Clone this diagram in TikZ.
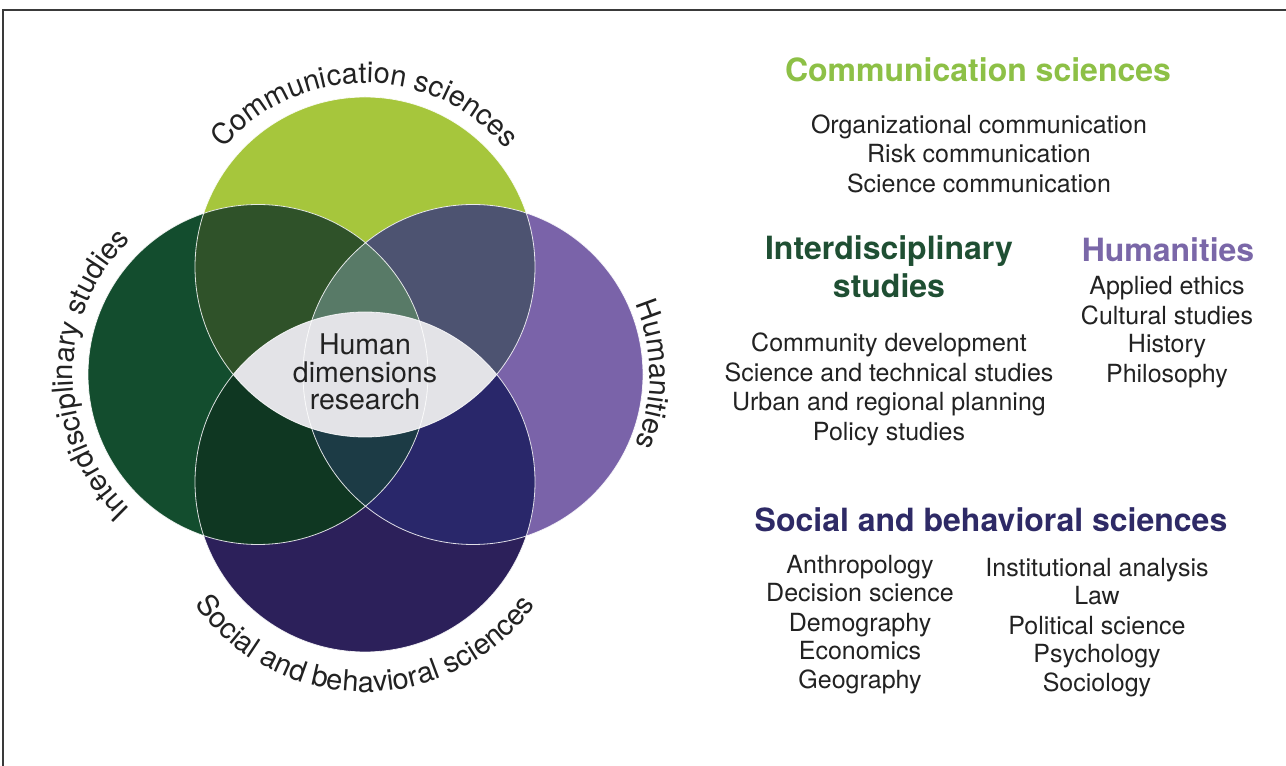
\documentclass[tikz,border=0pt]{standalone}
\usepackage{fontspec}
\setmainfont{TeX Gyre Heros}
\usetikzlibrary{decorations.text}

\definecolor{cTop}{HTML}{A6C63C}
\definecolor{cLeft}{HTML}{134D2E}
\definecolor{cRight}{HTML}{7A63A9}
\definecolor{cBot}{HTML}{2C205A}
\definecolor{cTL}{HTML}{2F5229}
\definecolor{cTR}{HTML}{4D5371}
\definecolor{cBL}{HTML}{0F3722}
\definecolor{cBR}{HTML}{29276A}
\definecolor{cTLR}{HTML}{587A67}
\definecolor{cBLR}{HTML}{1C3B45}
\definecolor{cLens}{HTML}{E3E3E7}
\definecolor{txt}{HTML}{222222}
\definecolor{tGreen}{HTML}{8DC046}
\definecolor{tDark}{HTML}{1F4F33}
\definecolor{tPurple}{HTML}{7A67A8}
\definecolor{tIndigo}{HTML}{2E2A66}
\definecolor{frameCol}{HTML}{3A3A3A}

\tikzset{
  body/.style={font=\fontsize{25}{29}\selectfont, text=txt, anchor=base, inner sep=0pt},
  ttl/.style={font=\bfseries\fontsize{32}{36}\selectfont, anchor=base, inner sep=0pt},
  lenstxt/.style={font=\fontsize{28.5}{29}\selectfont, text=txt, anchor=base, inner sep=0pt},
  outline/.style={draw=white, line width=0.8pt, draw opacity=0.85},
  frameline/.style={draw=frameCol, line width=1.6pt},
  arclabel/.style={decorate, decoration={text along path, text align=center,
      text color=txt, text={|\fontsize{29}{29}\selectfont|#1}}}
}

\begin{document}
\begin{tikzpicture}[x=1pt,y=1pt]
\useasboundingbox (0,0) rectangle (1286,766);
\fill[white] (0,0) rectangle (1286,766);
\draw[frameline] (3,0) -- (3,756) -- (1286,756);

\def\R{170pt}
\coordinate (T) at (365,499);
\coordinate (B) at (365,284);
\coordinate (L) at (258,391.5);
\coordinate (R) at (473,391.5);

% single circles
\fill[cTop] (T) circle[radius=\R];
\fill[cLeft] (L) circle[radius=\R];
\fill[cRight] (R) circle[radius=\R];
\fill[cBot] (B) circle[radius=\R];

% pairwise overlaps
\begin{scope}
  \clip (T) circle[radius=\R];
  \fill[cTL] (L) circle[radius=\R];
  \fill[cTR] (R) circle[radius=\R];
\end{scope}
\begin{scope}
  \clip (B) circle[radius=\R];
  \fill[cBL] (L) circle[radius=\R];
  \fill[cBR] (R) circle[radius=\R];
\end{scope}
% triple overlaps
\begin{scope}
  \clip (T) circle[radius=\R];
  \clip (L) circle[radius=\R];
  \fill[cTLR] (R) circle[radius=\R];
\end{scope}
\begin{scope}
  \clip (B) circle[radius=\R];
  \clip (L) circle[radius=\R];
  \fill[cBLR] (R) circle[radius=\R];
\end{scope}
% central lens
\begin{scope}
  \clip (T) circle[radius=\R];
  \fill[cLens] (B) circle[radius=\R];
\end{scope}

% outlines
\draw[outline] (T) circle[radius=\R];
\draw[outline] (L) circle[radius=\R];
\draw[outline] (R) circle[radius=\R];
\draw[outline] (B) circle[radius=\R];

% lens text
\node[lenstxt] (hd1) at (365,411) {Human};
\node[lenstxt] (hd2) at (365,383) {dimensions};
\node[lenstxt] (hd3) at (365,356) {research};

% curved labels
\path[arclabel={Communication sciences}] ([shift={(170:184pt)}]T) arc[start angle=170, end angle=10, radius=184pt];
\path[arclabel={Interdisciplinary studies}] ([shift={(250:185pt)}]L) arc[start angle=250, end angle=110, radius=185pt];
\path[arclabel={Humanities}] ([shift={(70:177pt)}]R) arc[start angle=70, end angle=-70, radius=177pt];
\path[arclabel={Social and behavioral sciences}] ([shift={(200:210pt)}]B) arc[start angle=200, end angle=340, radius=210pt];

% right-hand text
\node[ttl, text=tGreen] (csT) at (978,684) {Communication sciences};
\node[body] (cs1) at (979,632) {Organizational communication};
\node[body] (cs2) at (979,603) {Risk communication};
\node[body] (cs3) at (979,573) {Science communication};

\node[ttl, text=tDark] (isT1) at (889,506) {Interdisciplinary};
\node[ttl, text=tDark] (isT2) at (889,468) {studies};
\node[body] (is1) at (889,414) {Community development};
\node[body] (is2) at (889,384) {Science and technical studies};
\node[body] (is3) at (889,355) {Urban and regional planning};
\node[body] (is4) at (889,325) {Policy studies};

\node[ttl, text=tPurple] (huT) at (1168,504) {Humanities};
\node[body] (hu1) at (1167,471) {Applied ethics};
\node[body] (hu2) at (1167,441) {Cultural studies};
\node[body] (hu3) at (1167,413) {History};
\node[body] (hu4) at (1167,383) {Philosophy};

\node[ttl, text=tIndigo] (sbT) at (991,234) {Social and behavioral sciences};
\node[body] (sl1) at (860,192) {Anthropology};
\node[body] (sl2) at (860,164) {Decision science};
\node[body] (sl3) at (860,134) {Demography};
\node[body] (sl4) at (860,106) {Economics};
\node[body] (sl5) at (860,77) {Geography};
\node[body] (sr1) at (1097,189) {Institutional analysis};
\node[body] (sr2) at (1097,161) {Law};
\node[body] (sr3) at (1097,131) {Political science};
\node[body] (sr4) at (1097,103) {Psychology};
\node[body] (sr5) at (1097,74) {Sociology};
\end{tikzpicture}
\end{document}
